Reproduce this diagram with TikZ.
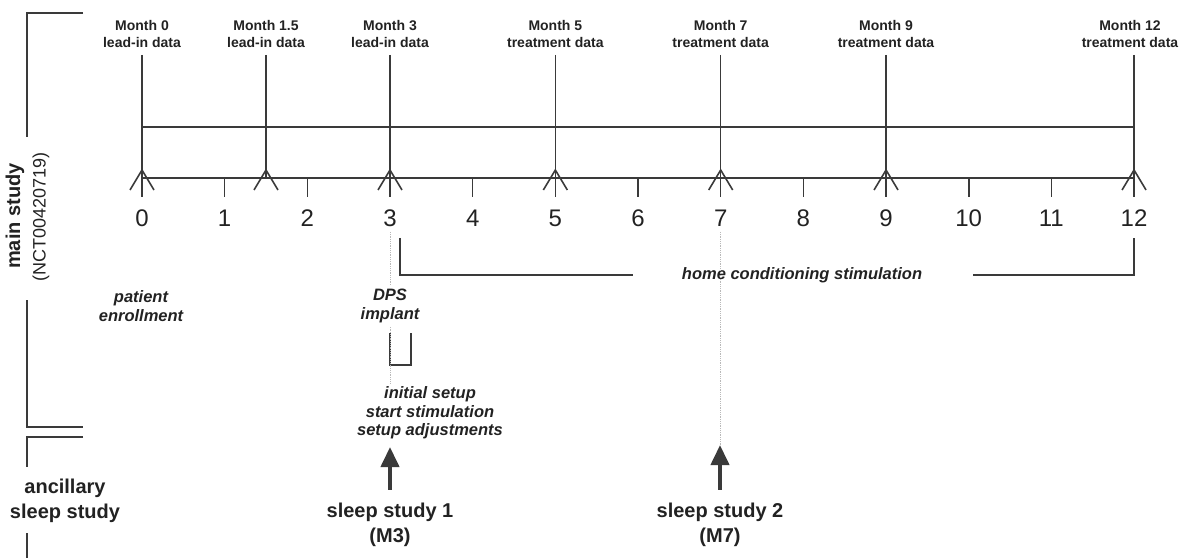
\documentclass[tikz,border=0pt]{standalone}
\usepackage{fontspec}
\setmainfont{Liberation Sans}
\usetikzlibrary{arrows.meta}
\definecolor{ln}{HTML}{3A3A3A}
\definecolor{tx}{HTML}{222222}

\begin{document}
\begin{tikzpicture}[x=1pt,y=1pt,line width=1.6pt,color=ln,
  mon/.style={font=\fontsize{14}{17}\selectfont\bfseries,align=center,text=tx},
  num/.style={font=\fontsize{24}{28}\selectfont,text=tx},
  itl/.style={font=\fontsize{16.5}{18.5}\selectfont\bfseries\itshape,align=center,text=tx},
  big/.style={font=\fontsize{20}{25}\selectfont\bfseries,align=center,text=tx},
  dotline/.style={gray!55,line width=0.8pt,densely dotted},
  bigarrow/.style={line width=4pt,-{Triangle[width=18pt,length=20pt]}}]
\useasboundingbox (0,0) rectangle (1184,558);
% time axis
\coordinate (a0) at (142,380);
\coordinate (a12) at (1134,380);
\coordinate (u0) at (142,431);
\coordinate (u12) at (1134,431);
\draw (a0) -- (a12);
\draw (u0) -- (u12);
\foreach \m in {0,3,5,7,9,12}
  \draw ({142+82.67*\m},503) -- ({142+82.67*\m},361);
\draw (266,503) -- (266,380);
\foreach \m in {1,2,4,6,8,10,11}
  \draw ({142+82.67*\m},380) -- ++(0,-19);
\foreach \m in {0,1.5,3,5,7,9,12}
  \draw ({142+82.67*\m-12},368) -- ++(12,20) -- ++(12,-20);
\foreach \m in {0,...,12}
  \node[num] (n\m) at ({142+82.67*\m},340) {\m};
% month labels
\foreach \m/\t [count=\i] in {0/lead-in,1.5/lead-in,3/lead-in,5/treatment,7/treatment,9/treatment}
  \node[mon] (mo\i) at ({142+82.67*\m},524.5) {Month \m\\\t{} data};
\node[mon] (mo7) at (1130,524.5) {Month 12\\treatment data};
% home stimulation bracket
\node[itl] (home) at (802,283) {home conditioning stimulation};
\coordinate (h0) at (400,320);
\coordinate (h1) at (400,283);
\coordinate (h2) at (633,283);
\coordinate (h3) at (973,283);
\coordinate (h4) at (1134,283);
\coordinate (h5) at (1134,320);
\draw (h0) -- (h1) -- (h2);
\draw (h3) -- (h4) -- (h5);
% events
\node[itl] (enrol) at (141,252) {patient\\enrollment};
\node[itl] (dps) at (390,252) {DPS\\implant};
\node[itl] (setup) at (430,145) {initial setup\\start stimulation\\setup adjustments};
\draw (390,225) -- (390,193) -- (411,193) -- (411,225);
\draw[dotline] (390,326) -- (dps.north);
\draw[dotline] (dps.south) -- (dps.south |- setup.north);
% sleep studies
\node[big] (ss1) at (390,33.5) {sleep study 1\\(M3)};
\node[big] (ss2) at (720,33.5) {sleep study 2\\(M7)};
\coordinate (t1) at (390,111);
\coordinate (t2) at (720,113);
\draw[dotline] (720,326) -- (t2);
\draw[bigarrow] (ss1.north) ++(0,9) -- (t1);
\draw[bigarrow] (ss2.north) ++(0,9) -- (t2);
% study brackets
\node[big,rotate=90] (main) at (15,342) {main study};
\node[font=\fontsize{18}{20}\selectfont,text=tx,rotate=90] (nct) at (41,341) {(NCT00420719)};
\node[big] (anc) at (65,57.5) {ancillary\\sleep study};
\draw (83,545) -- (27,545) -- (27,421);
\draw (27,258) -- (27,131) -- (83,131);
\draw (83,121) -- (27,121) -- (27,91);
\draw (27,25) -- (27,0);
\end{tikzpicture}
\end{document}
